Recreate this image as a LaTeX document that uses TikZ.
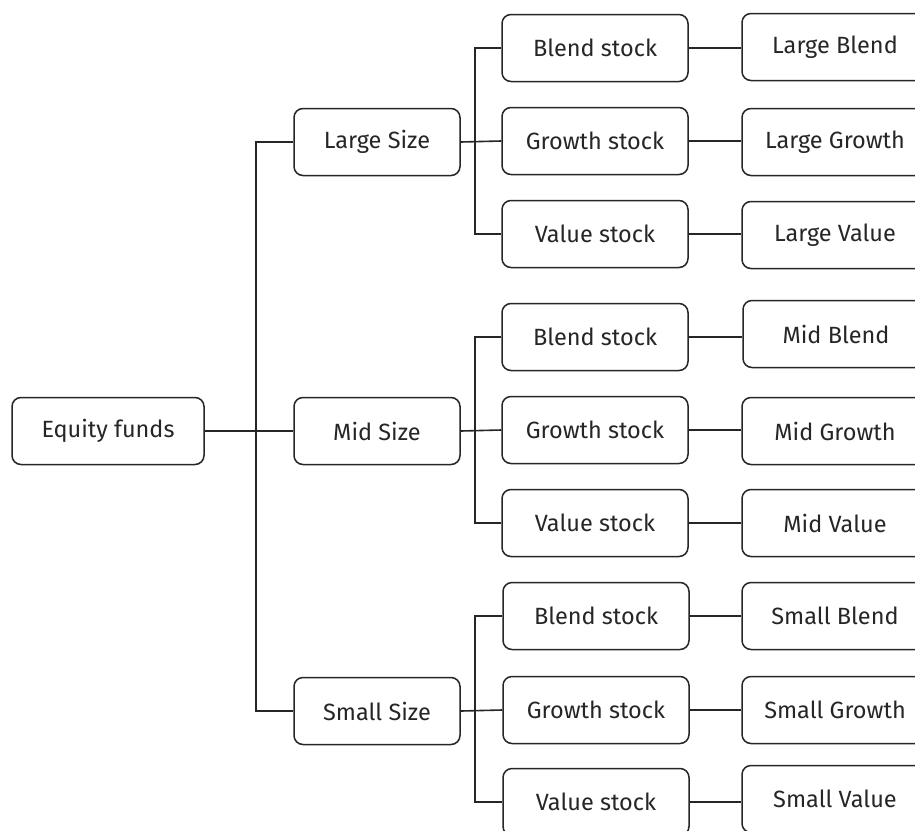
\documentclass[tikz,border=0pt]{standalone}
\usepackage{fontspec}
\setmainfont{Fira Sans}
\begin{document}
\begin{tikzpicture}[x=1pt,y=-1pt,
  box/.style={draw=black!85, line width=1.5pt, rounded corners=9pt, fill=white,
    minimum height=67pt, inner sep=0pt, font=\fontsize{23.5}{28}\selectfont, text=black!85},
  rootbox/.style={box, minimum width=192pt},
  sizebox/.style={box, minimum width=166pt},
  stockbox/.style={box, minimum width=186pt},
  leafbox/.style={box, minimum width=186pt},
  link/.style={draw=black!85, line width=1.6pt}]
\clip (0,0) rectangle (915,830);
\fill[white] (0,0) rectangle (915,830);

\node[rootbox] (eq) at (108,431) {Equity funds};
\node[sizebox] (ls) at (377,142) {Large Size};
\node[sizebox] (ms) at (377,431) {Mid Size};
\node[sizebox] (ss) at (377,711) {Small Size};

% Large
\node[stockbox] (lb) at (595,48) {Blend stock};
\node[stockbox] (lg) at (595,141) {Growth stock};
\node[stockbox] (lv) at (595,234) {Value stock};
\node[leafbox] (llb) at (835,47) {Large Blend};
\node[leafbox] (llg) at (835,142) {Large Growth};
\node[leafbox] (llv) at (835,235) {Large Value};
% Mid
\node[stockbox] (mb) at (595,337) {Blend stock};
\node[stockbox] (mg) at (595,430) {Growth stock};
\node[stockbox] (mv) at (595,523) {Value stock};
\node[leafbox] (mmb) at (836,334) {Mid Blend};
\node[leafbox] (mmg) at (835,431) {Mid Growth};
\node[leafbox] (mmv) at (835,523) {Mid Value};
% Small
\node[stockbox] (sb) at (596,616) {Blend stock};
\node[stockbox] (sg) at (596,710) {Growth stock};
\node[stockbox] (sv) at (596,802) {Value stock};
\node[leafbox] (ssb) at (835,616) {Small Blend};
\node[leafbox] (ssg) at (835,710) {Small Growth};
\node[leafbox] (ssv) at (835,799) {Small Value};

% trunk
\coordinate (t) at (256,0);
\draw[link] (eq.east) -- (ms.west);
\draw[link] (ls.west) -| (t |- ms.west) |- (ss.west);
\draw[link] (t |- ls.west) -- (t |- ss.west);

% sub trunks
\foreach \s/\b/\g/\v in {ls/lb/lg/lv, ms/mb/mg/mv, ss/sb/sg/sv}{
  \coordinate (st) at (475,0);
  \draw[link] (\s.east) -- (\g.west);
  \draw[link] (\b.west) -| (st |- \g.west) |- (\v.west);
}
% leaf links
\foreach \a/\b in {lb/llb, lg/llg, lv/llv, mb/mmb, mg/mmg, mv/mmv, sb/ssb, sg/ssg, sv/ssv}{
  \draw[link] (\a.east) -- (\b.west |- \a.east);
}
\end{tikzpicture}
\end{document}
